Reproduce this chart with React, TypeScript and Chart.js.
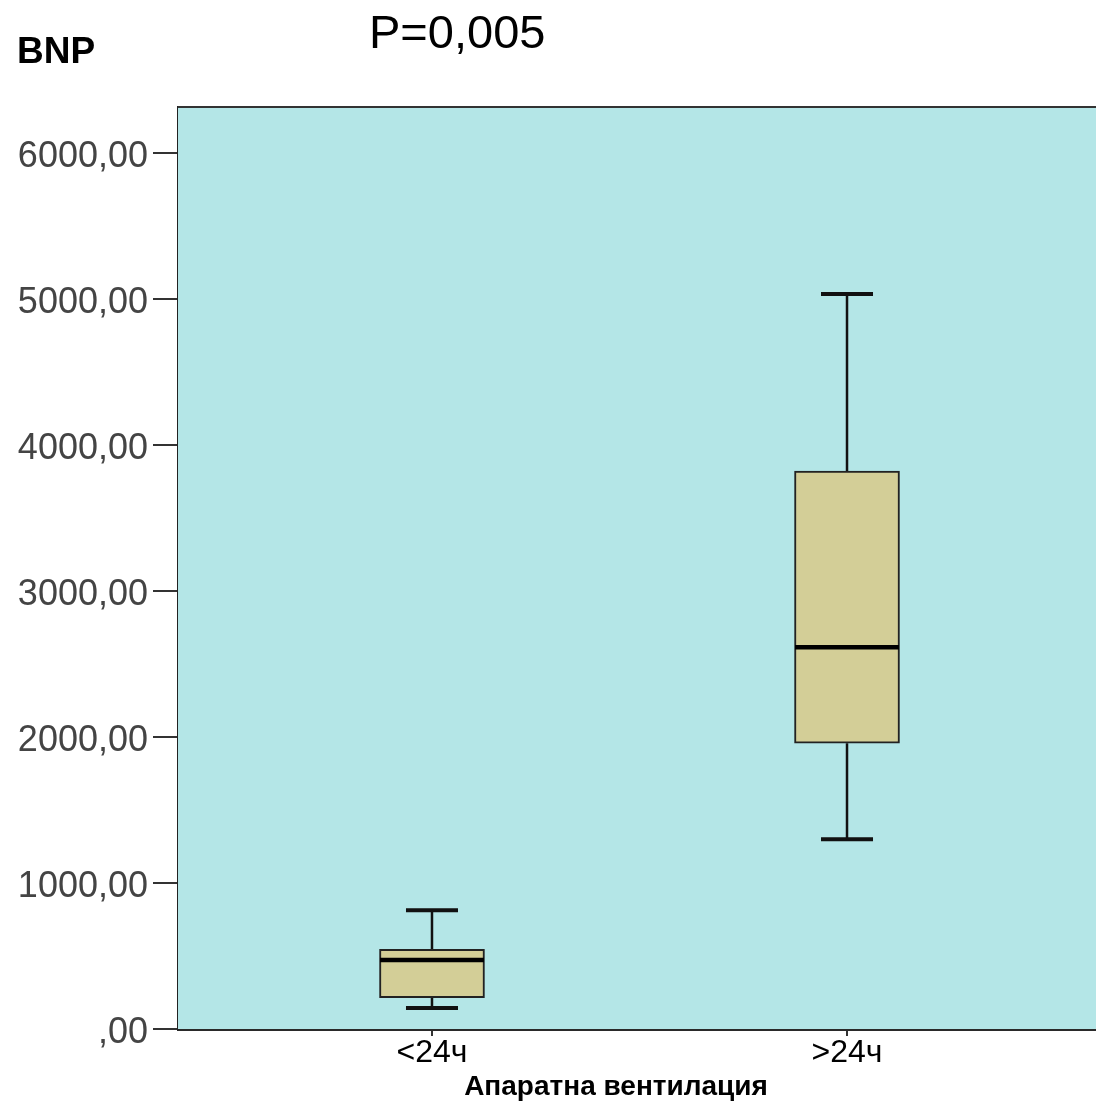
import React, { useEffect, useRef } from "react";
import { Chart, registerables } from "chart.js";

Chart.register(...registerables);

const categories = ["<24ч", ">24ч"];
const whiskerMin = [144, 1300];
const q1 = [214, 1958];
const median = [473, 2615];
const q3 = [546, 3823];
const whiskerMax = [813, 5036];
const yTicks = [0, 1000, 2000, 3000, 4000, 5000, 6000];
const yAxisTitle = "BNP";
const pTitle = "P=0,005";
const xAxisTitle = "Апаратна вентилация";

const FONT = "'Liberation Sans', Arial, sans-serif";

const formatTick = (v: number) => (v === 0 ? ",00" : `${v},00`);

const boxPlugin = {
  id: "boxExtras",
  beforeDatasetsDraw(chart: any) {
    const { ctx, chartArea } = chart;
    ctx.save();
    ctx.fillStyle = "#b4e6e7";
    ctx.fillRect(chartArea.left, chartArea.top, chartArea.right - chartArea.left, chartArea.bottom - chartArea.top);
    ctx.restore();
    const xs = chart.scales.x;
    const ys = chart.scales.y;
    ctx.save();
    ctx.strokeStyle = "#111";
    categories.forEach((_, i) => {
      const x = xs.getPixelForValue(i);
      ctx.lineWidth = 2.5;
      ctx.beginPath();
      ctx.moveTo(x, ys.getPixelForValue(whiskerMax[i]));
      ctx.lineTo(x, ys.getPixelForValue(q3[i]));
      ctx.moveTo(x, ys.getPixelForValue(q1[i]));
      ctx.lineTo(x, ys.getPixelForValue(whiskerMin[i]));
      ctx.stroke();
      ctx.lineWidth = 4;
      ctx.beginPath();
      const hw = 26;
      const yMax = ys.getPixelForValue(whiskerMax[i]);
      const yMin = ys.getPixelForValue(whiskerMin[i]);
      ctx.moveTo(x - hw, yMax);
      ctx.lineTo(x + hw, yMax);
      ctx.moveTo(x - hw, yMin);
      ctx.lineTo(x + hw, yMin);
      ctx.stroke();
    });
    ctx.restore();
  },
  afterDatasetsDraw(chart: any) {
    const { ctx } = chart;
    const xs = chart.scales.x;
    const ys = chart.scales.y;
    ctx.save();
    ctx.strokeStyle = "#000";
    ctx.lineWidth = 4.5;
    categories.forEach((_, i) => {
      const x = xs.getPixelForValue(i);
      const y = ys.getPixelForValue(median[i]);
      ctx.beginPath();
      ctx.moveTo(x - 52, y);
      ctx.lineTo(x + 52, y);
      ctx.stroke();
    });
    ctx.restore();
  },
  afterDraw(chart: any) {
    const { ctx, chartArea } = chart;
    ctx.save();
    ctx.strokeStyle = "#333";
    ctx.lineWidth = 2;
    ctx.beginPath();
    ctx.moveTo(chartArea.left, chartArea.top);
    ctx.lineTo(chartArea.right, chartArea.top);
    ctx.stroke();
    ctx.fillStyle = "#000";
    ctx.textBaseline = "alphabetic";
    ctx.textAlign = "left";
    ctx.font = `bold 37px ${FONT}`;
    ctx.fillText(yAxisTitle, 17, 63);
    ctx.font = `47px ${FONT}`;
    ctx.fillText(pTitle, 369, 48);
    ctx.textAlign = "center";
    ctx.font = `bold 28px ${FONT}`;
    ctx.fillText(xAxisTitle, 616, 1095);
    ctx.restore();
  },
};

export default function App() {
  const ref = useRef<HTMLCanvasElement | null>(null);
  useEffect(() => {
    if (!ref.current) return;
    const chart = new Chart(ref.current, {
      type: "bar",
      data: {
        datasets: [
          {
            data: categories.map((_, i) => ({ x: i, y: [q1[i], q3[i]] })) as any,
            backgroundColor: "#d3ce97",
            borderColor: "#222",
            borderWidth: 2,
            borderSkipped: false,
            barThickness: 105,
            grouped: false,
          } as any,
        ],
      },
      options: {
        animation: false,
        responsive: false,
        maintainAspectRatio: false,
        layout: { padding: { top: 107, left: 0, right: 9, bottom: 0 } },
        plugins: { legend: { display: false }, tooltip: { enabled: false }, title: { display: false } },
        scales: {
          x: {
            type: "linear",
            offset: false,
            min: -0.612,
            max: 1.612,
            afterBuildTicks: (scale: any) => {
              scale.ticks = categories.map((_, i) => ({ value: i }));
            },
            afterFit: (scale: any) => {
              scale.height = 73;
            },
            ticks: {
              callback: (v: any) => categories[Number(v)] ?? "",
              color: "#000",
              font: { family: FONT, size: 32 },
              padding: -2,
              maxRotation: 0,
              autoSkip: false,
            },
            grid: { offset: false, drawOnChartArea: false, drawTicks: true, tickLength: 7, color: "#333", lineWidth: 2 },
            border: { display: true, color: "#2a2a2a", width: 3 },
          },
          y: {
            type: "linear",
            min: 0,
            max: 6317,
            afterBuildTicks: (scale: any) => {
              scale.ticks = yTicks.map((v) => ({ value: v }));
            },
            afterFit: (scale: any) => {
              scale.width = 178;
            },
            ticks: {
              callback: (v: any) => formatTick(Number(v)),
              color: "#444",
              font: { family: FONT, size: 36 },
              padding: 5,
              labelOffset: 4,
              autoSkip: false,
            },
            grid: { drawOnChartArea: false, drawTicks: true, tickLength: 25, color: "#333", lineWidth: 2 },
            border: { display: true, color: "#222", width: 3 },
          },
        },
      },
      plugins: [boxPlugin],
    });
    return () => chart.destroy();
  }, []);
  return (
    <div
      style={{
        position: "fixed",
        left: 0,
        top: 0,
        width: 1096,
        height: 1102,
        overflow: "hidden",
        background: "#fff",
      }}
    >
      <canvas ref={ref} width={1110} height={1102} style={{ display: "block" }} />
    </div>
  );
}
